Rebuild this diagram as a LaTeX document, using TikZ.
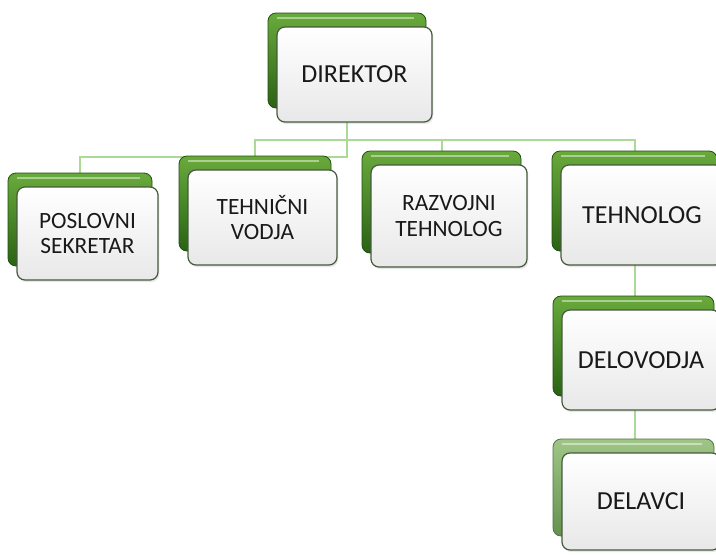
\documentclass[tikz,border=0pt]{standalone}
\usepackage{fontspec}
\setmainfont{Carlito}
\usetikzlibrary{shadows}
\definecolor{conncol}{RGB}{170,218,150}
\definecolor{gtop}{RGB}{105,170,60}
\definecolor{gbot}{RGB}{42,98,20}
\definecolor{ptop}{RGB}{160,198,135}
\definecolor{pbot}{RGB}{100,145,80}
\definecolor{cardedge}{RGB}{70,90,60}
\definecolor{txt}{RGB}{25,25,25}
\pgfdeclarelayer{bg}
\pgfsetlayers{bg,main}
\tikzset{
  conn/.style={draw=conncol, line width=1.5pt},
  backcard/.style={rounded corners=6pt, top color=gtop, bottom color=gbot, draw=gbot!80!black, line width=0.6pt, inner sep=0pt},
  palecard/.style={rounded corners=6pt, top color=ptop, bottom color=pbot, draw=pbot!80!black, line width=0.6pt, inner sep=0pt},
  frontcard/.style={rounded corners=6pt, top color=white, bottom color=black!9, draw=cardedge, line width=0.9pt,
    inner sep=0pt, align=center, text=txt, font=\fontsize{19.5}{20}\selectfont,
    drop shadow={opacity=0.18, shadow xshift=1pt, shadow yshift=-1.5pt}},
  twoline/.style={font=\fontsize{17.5}{19}\selectfont},
}
% [front opts], name, x1, y1, x2, y2 (front card, px), text, back style
\newcommand\orgcard[8][]{%
  \pgfmathsetmacro\cw{(#5-#3)*0.75}%
  \pgfmathsetmacro\ch{(#6-#4)*0.75}%
  \pgfmathsetmacro\bw{(#5-#3+3)*0.75}%
  \node[#8, minimum width=\bw pt, minimum height=\ch pt] (#2b) at ({(#3+#5)/2-7.5},{(#4+#6)/2-14}) {};
  \draw[white, opacity=0.45, line width=1.4pt] ([xshift=7pt,yshift=-4pt]#2b.north west) -- ([xshift=-9pt,yshift=-4pt]#2b.north east);
  \node[frontcard, #1, minimum width=\cw pt, minimum height=\ch pt] (#2) at ({(#3+#5)/2},{(#4+#6)/2}) {#7};
}
\begin{document}
\begin{tikzpicture}[x=0.75pt, y=-0.75pt]
\useasboundingbox (0,0) rectangle (716,554);
\clip (0,0) rectangle (716,554);
\begin{pgfonlayer}{bg}
\fill[white] (0,0) rectangle (716,554);
\end{pgfonlayer}

\orgcard{dir}{277}{27}{432}{122}{DIREKTOR}{backcard}
\orgcard[twoline]{pos}{17}{187}{158}{280}{POSLOVNI\\SEKRETAR}{backcard}
\orgcard[twoline]{tec}{188}{170}{337}{265}{TEHNIČNI\\VODJA}{backcard}
\orgcard[twoline]{raz}{371}{165}{527}{267}{RAZVOJNI\\TEHNOLOG}{backcard}
\orgcard{teh}{561}{165}{723}{265}{TEHNOLOG}{backcard}
\orgcard{delv}{562}{310}{720}{410}{DELOVODJA}{backcard}
\orgcard{dela}{562}{453}{720}{550}{DELAVCI}{palecard}

\coordinate (busA) at (0,140);
\coordinate (busB) at (0,157);
\begin{pgfonlayer}{bg}
\draw[conn] (dirb.center) -- (dirb.center |- busB) -| (posb.center);
\draw[conn] (tecb.center) |- (busA -| tehb.center) -- (tehb.center);
\draw[conn] (razb.center) -- (razb.center |- busA);
\draw[conn] (tehb.center) -- (tehb.center |- delab.center);
\end{pgfonlayer}
\end{tikzpicture}
\end{document}
